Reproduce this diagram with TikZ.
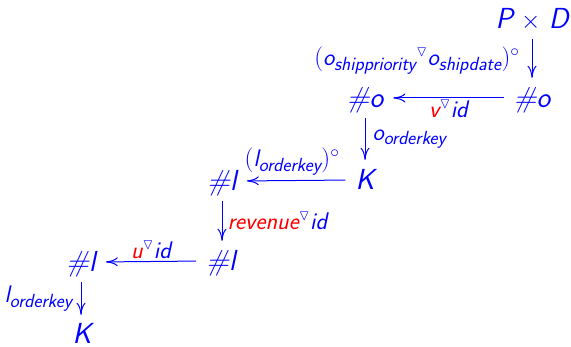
\documentclass[tikz,border=0pt]{standalone}
\usepackage{amsmath}
\usepackage{amssymb}
\usetikzlibrary{arrows.meta}
\DeclareMathSizes{24}{24}{19}{15}
\newcommand{\sv}[1]{\text{\sffamily\slshape #1}}
\newcommand{\tri}{{}^{\scriptscriptstyle\triangledown}}
\begin{document}
\begin{tikzpicture}[x=1pt,y=-1pt,
  obj/.style={text=blue,font=\fontsize{29}{34}\selectfont,inner sep=2pt,anchor=base,text height=20pt,text depth=0pt},
  lbl/.style={text=blue,font=\fontsize{24}{28}\selectfont,inner sep=2pt},
  arr/.style={-{To[length=12pt,width=9pt]},draw=blue,line width=1pt,shorten <=8pt,shorten >=8pt}]
\useasboundingbox (0,0) rectangle (571,347);
\node[obj] (PD) at (532,29) {$\sv{P}\mkern2mu\times\mkern2mu\sv{D}$};
\node[obj] (o2) at (532,108) {$\sv{\#o}$};
\node[obj] (o1) at (365,108) {$\sv{\#o}$};
\node[obj] (K1) at (365,190) {$\sv{K}$};
\node[obj] (l1) at (222,191) {$\sv{\#l}$};
\node[obj] (l2) at (221,271) {$\sv{\#l}$};
\node[obj] (l3) at (81,272) {$\sv{\#l}$};
\node[obj,inner ysep=1pt] (K2) at (82,344) {$\sv{K}$};
\draw[arr] (PD.south) -- (PD.south |- o2.north)
  node[lbl,midway,left,xshift=-10pt,yshift=-2pt] (a1) {$(\sv{o}_{\sv{shippriority}}\tri\sv{o}_{\sv{shipdate}})^{\circ}$};
\draw[arr] (o2.west) -- (o1.east)
  node[lbl,midway,below] (a2) {$\color{red}\sv{v}\color{blue}\tri\sv{id}$};
\draw[arr] (o1.south) -- (o1.south |- K1.north)
  node[lbl,midway,right,xshift=5pt] (a3) {$\sv{o}_{\sv{orderkey}}$};
\draw[arr] (K1.west) -- (l1.east)
  node[lbl,midway,above,xshift=-4pt,yshift=3pt] (a4) {$(\sv{l}_{\sv{orderkey}})^{\circ}$};
\draw[arr] (l1.south) -- (l1.south |- l2.north)
  node[lbl,midway,right,xshift=3pt] (a5) {$\color{red}\sv{revenue}\color{blue}\tri\sv{id}$};
\draw[arr] (l2.west) -- (l3.east)
  node[lbl,midway,above] (a6) {$\color{red}\sv{u}\color{blue}\tri\sv{id}$};
\draw[arr] (l3.south) -- (l3.south |- K2.north)
  node[lbl,midway,left,xshift=-6pt] (a7) {$\sv{l}_{\sv{orderkey}}$};
\end{tikzpicture}
\end{document}
